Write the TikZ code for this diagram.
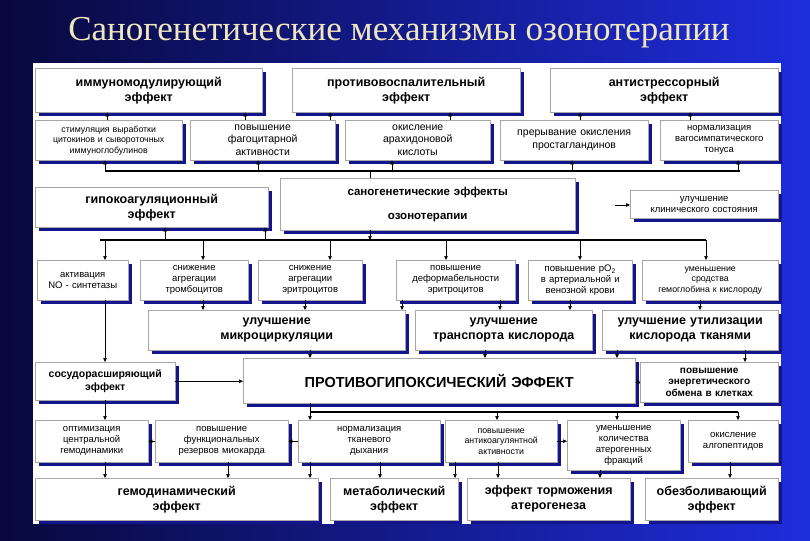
\documentclass[tikz,border=0pt]{standalone}
\usepackage{fontspec}
\setmainfont{Liberation Sans}
\newfontfamily\titlefont{Liberation Serif}
\usetikzlibrary{arrows.meta}
\definecolor{shadowc}{HTML}{14148C}
\definecolor{titlec}{HTML}{F0E6C0}
\tikzset{
 boxst/.style={draw=gray!70,fill=white,align=center,inner sep=0pt,font=\fontsize{9.5}{11}\selectfont},
 smt/.style={font=\fontsize{8.8}{10.5}\selectfont},
 bigt/.style={font=\bfseries\fontsize{12.5}{15}\selectfont},
 medt/.style={font=\bfseries\fontsize{10.5}{13}\selectfont},
 arr/.style={-{Triangle[length=4pt,width=3.5pt]},line width=0.5pt},
 barst/.style={line width=2.2pt}
}
\newcommand\bx[7][]{%
 \fill[shadowc] (#3+4,#4+4) rectangle (#5+4,#6+4);
 \pgfmathsetmacro\bw{#5-#3}\pgfmathsetmacro\bh{#6-#4}\pgfmathsetmacro\tw{#5-#3}%
 \node[boxst,#1,minimum width=\bw pt,minimum height=\bh pt,text width=\tw pt,anchor=north west] (#2) at (#3,#4) {#7};}
\begin{document}
\begin{tikzpicture}[x=1pt,y=-1pt]
\useasboundingbox (0,0) rectangle (810,540);
\shade[left color={rgb,255:red,8;green,8;blue,60},right color={rgb,255:red,30;green,45;blue,220}] (0,0) rectangle (810,540);
\node[titlec,font=\titlefont\fontsize{35}{38}\selectfont] (title) at (399,33) {Саногенетические механизмы озонотерапии};
\fill[white] (33,63) rectangle (781,524);
% row 1
\bx[bigt]{imm}{35}{68}{262}{112}{иммуномодулирующий\\эффект}
\bx[bigt]{prot}{292}{68}{520}{112}{противовоспалительный\\эффект}
\bx[bigt]{anti}{550}{68}{778}{112}{антистрессорный\\эффект}
% row 2
\bx[smt]{b1}{35}{120}{182}{160}{стимуляция выработки\\цитокинов и сывороточных\\иммуноглобулинов}
\bx[font=\fontsize{10.5}{12.5}\selectfont]{b2}{190}{120}{335}{160}{повышение\\фагоцитарной\\активности}
\bx[font=\fontsize{10.5}{12.5}\selectfont]{b3}{345}{120}{490}{160}{окисление\\арахидоновой\\кислоты}
\bx[font=\fontsize{10.5}{12.5}\selectfont]{b4}{500}{120}{648}{160}{прерывание окисления\\простагландинов}
\bx{b5}{660}{120}{778}{160}{нормализация\\вагосимпатического\\тонуса}
% row 3
\bx[bigt]{hypo}{35}{187}{268}{227}{гипокоагуляционный\\эффект}
\bx[font=\bfseries\fontsize{11.5}{24}\selectfont]{san}{280}{178}{575}{230}{саногенетические эффекты\\озонотерапии}
\bx{clin}{630}{190}{778}{218}{улучшение\\клинического состояния}
% row 4
\bx{c1}{37}{260}{128}{300}{активация\\NO - синтетазы}
\bx{c2}{140}{260}{248}{300}{снижение\\агрегации\\тромбоцитов}
\bx{c3}{258}{260}{362}{300}{снижение\\агрегации\\эритроцитов}
\bx{c4}{396}{260}{515}{300}{повышение\\деформабельности\\эритроцитов}
\bx{c5}{528}{260}{632}{300}{повышение pO\textsubscript{2}\\в артериальной и\\венозной крови}
\bx[smt]{c6}{642}{260}{778}{300}{уменьшение\\сродства\\гемоглобина к кислороду}
% row 5
\bx[bigt]{m1}{148}{310}{405}{350}{улучшение\\микроциркуляции}
\bx[bigt]{m2}{415}{310}{592}{350}{улучшение\\транспорта кислорода}
\bx[bigt]{m3}{602}{310}{778}{350}{улучшение утилизации\\кислорода тканями}
% row 6
\bx[medt]{vaso}{35}{362}{175}{400}{сосудорасширяющий\\эффект}
\bx[font=\bfseries\fontsize{14.5}{16}\selectfont]{pgh}{243}{358}{635}{403}{ПРОТИВОГИПОКСИЧЕСКИЙ ЭФФЕКТ}
\bx[font=\bfseries\fontsize{10}{11.5}\selectfont]{energ}{640}{362}{778}{402}{повышение\\энергетического\\обмена в клетках}
% row 7
\bx{d1}{35}{420}{148}{462}{оптимизация\\центральной\\гемодинамики}
\bx{d2}{155}{420}{288}{462}{повышение\\функциональных\\резервов миокарда}
\bx{d3}{298}{420}{440}{462}{нормализация\\тканевого\\дыхания}
\bx[smt]{d4}{445}{420}{557}{462}{повышение\\антикоагулянтной\\активности}
\bx{d5}{567}{420}{680}{470}{уменьшение\\количества\\атерогенных\\фракций}
\bx{d6}{688}{420}{778}{462}{окисление\\алгопептидов}
% row 8
\bx[bigt]{e1}{35}{478}{318}{520}{гемодинамический\\эффект}
\bx[bigt]{e2}{330}{478}{458}{520}{метаболический\\эффект}
\bx[bigt]{e3}{467}{478}{630}{520}{эффект торможения\\атерогенеза}
\bx[bigt]{e4}{645}{478}{778}{520}{обезболивающий\\эффект}
% helpers
\newcommand\va[3]{\path (#3,0) coordinate (tx); \draw[arr] (#1.south -| tx) -- (#2.north -| tx);}
\newcommand\vb[3]{\path (#3,0) coordinate (tx); \draw[arr] (#1 -| tx) -- (#2.north -| tx);}
\newcommand\vc[3]{\path (#3,0) coordinate (tx); \draw[arr] (#1 -| tx) -- (#2.south -| tx);}
\newcommand\vu[3]{\path (#3,0) coordinate (tx); \draw[arr] (#1.north -| tx) -- (#2.south -| tx);}
% top bar
\coordinate (tb1) at (105,171); \coordinate (tb2) at (740,171);
\draw[barst] (tb1) -- (tb2);
\coordinate (tbs) at (370,171);
\draw[line width=0.6pt] (san.north -| tbs) -- (tbs);
\vc{tb1}{b1}{105}\vc{tb1}{b2}{258}\vc{tb1}{b3}{392}\vc{tb1}{b4}{572}\vc{tb1}{b5}{738}
\vu{b1}{imm}{107}\vu{b2}{imm}{245}\vu{b3}{prot}{330}\vu{b3}{prot}{450}\vu{b4}{anti}{580}\vu{b5}{anti}{690}
% clinical
\coordinate (cl) at (615,205);
\draw[arr] (cl) -- (clin.west |- cl);
% lower bar
\coordinate (lb1) at (100,240); \coordinate (lb2) at (706,240);
\draw[barst] (lb1) -- (lb2);
\coordinate (lbs) at (370,240);
\draw[arr] (san.south -| lbs) -- (lbs);
\vc{lb1}{hypo}{165}\vc{lb1}{hypo}{265}
\vb{lb1}{c1}{105}\vb{lb1}{c2}{203}\vb{lb1}{c3}{330}\vb{lb1}{c4}{446}\vb{lb1}{c5}{580}\vb{lb1}{c6}{706}
% row4 -> row5
\va{c2}{m1}{203}\va{c3}{m1}{305}\va{c4}{m1}{402}\va{c4}{m2}{500}\va{c5}{m2}{570}\va{c6}{m3}{700}
\va{c1}{vaso}{105}
% row5 -> row6
\va{m1}{pgh}{310}\va{m2}{pgh}{485}\va{m3}{pgh}{617}\va{m3}{energ}{745}
\draw[arr] (vaso.east) -- (pgh.west |- vaso.east);
\draw[arr] (energ.west) -- (pgh.east |- energ.west);
% lower bar 2
\coordinate (b3a) at (310,412); \coordinate (b3b) at (738,412);
\draw[barst] (b3a) -- (b3b);
\draw[line width=0.6pt] (pgh.south -| b3a) -- (b3a);
\vb{b3a}{d3}{310}\vb{b3a}{d4}{497}\vb{b3a}{d5}{617}\vb{b3a}{d6}{738}
\va{vaso}{d1}{105}
\draw[arr] (d3.west) -- (d2.east |- d3.west);
\draw[arr] (d2.west) -- (d1.east |- d2.west);
\draw[arr] (d4.east) -- (d5.west |- d4.east);
% row7 -> row8
\va{d1}{e1}{105}\va{d2}{e1}{228}\va{d3}{e1}{310}\va{d3}{e2}{380}\va{d4}{e2}{455}\va{d4}{e3}{498}\va{d5}{e3}{600}\va{d6}{e4}{730}
\end{tikzpicture}
\end{document}
